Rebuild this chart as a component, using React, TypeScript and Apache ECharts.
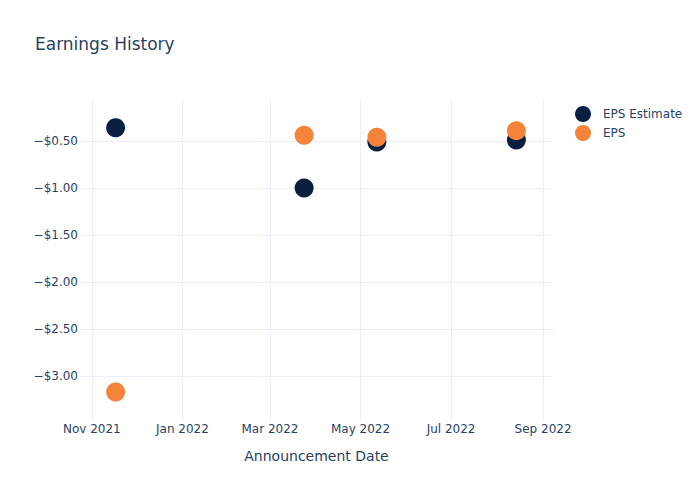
import React, { useEffect, useRef } from "react";
import * as echarts from "echarts";

const dates = ["2021-11-17", "2022-03-24", "2022-05-12", "2022-08-14"];
const epsEstimate = [-0.36, -1.0, -0.51, -0.49];
const eps = [-3.17, -0.44, -0.46, -0.39];
const xTicks = ["2021-11-01", "2022-01-01", "2022-03-01", "2022-05-01", "2022-07-01", "2022-09-01"];
const yTicks = [-3.0, -2.5, -2.0, -1.5, -1.0, -0.5];
const monthNames = ["Jan", "Feb", "Mar", "Apr", "May", "Jun", "Jul", "Aug", "Sep", "Oct", "Nov", "Dec"];

const ts = (d: string) => Date.parse(d + "T00:00:00Z");
const FONT = "DejaVu Sans";
const TXT = "#2a3f5f";

export default function App() {
  const ref = useRef<HTMLDivElement>(null);
  useEffect(() => {
    const chart = echarts.init(ref.current!, null, { renderer: "svg" });
    chart.setOption({
      animation: false,
      textStyle: { fontFamily: FONT },
      title: {
        text: "Earnings History",
        left: 35,
        top: 35,
        padding: 0,
        textStyle: { fontFamily: FONT, fontSize: 17, fontWeight: "normal", color: TXT },
      },
      legend: {
        orient: "vertical",
        left: 575,
        top: 106,
        padding: 0,
        itemWidth: 30,
        itemHeight: 16,
        itemGap: 3,
        icon: "circle",
        textStyle: { fontFamily: FONT, fontSize: 12, color: TXT },
        data: ["EPS Estimate", "EPS"],
      },
      grid: { left: 80, right: 147, top: 100, bottom: 80, containLabel: false },
      xAxis: {
        type: "value",
        min: ts("2021-10-24"),
        max: ts("2022-09-07") + 16 * 3600 * 1000,
        name: "Announcement Date",
        nameLocation: "middle",
        nameGap: 29,
        nameTextStyle: { fontFamily: FONT, fontSize: 14, color: TXT },
        axisLine: { show: false },
        axisTick: { show: false, customValues: xTicks.map(ts) },
        splitLine: { show: true, lineStyle: { color: "#ebf0f8", width: 1 } },
        axisLabel: {
          customValues: xTicks.map(ts),
          margin: 3,
          fontFamily: FONT,
          fontSize: 12,
          color: TXT,
          formatter: (v: number) => {
            const d = new Date(v);
            return monthNames[d.getUTCMonth()] + " " + d.getUTCFullYear();
          },
        },
      },
      yAxis: {
        type: "value",
        min: -3.468,
        max: -0.064,
        axisLine: { show: false },
        axisTick: { show: false, customValues: yTicks },
        splitLine: { show: true, lineStyle: { color: "#ebf0f8", width: 1 } },
        axisLabel: {
          customValues: yTicks,
          margin: 2,
          fontFamily: FONT,
          fontSize: 12,
          color: TXT,
          formatter: (v: number) => (v < 0 ? "\u2212" : "") + "$" + Math.abs(v).toFixed(2),
        },
      },
      series: [
        {
          name: "EPS Estimate",
          type: "scatter",
          symbolSize: 19,
          itemStyle: { color: "#0b1f41", opacity: 1 },
          data: dates.map((d, i) => [ts(d), epsEstimate[i]]),
        },
        {
          name: "EPS",
          type: "scatter",
          symbolSize: 19,
          itemStyle: { color: "#f5843a", opacity: 1 },
          data: dates.map((d, i) => [ts(d), eps[i]]),
        },
      ],
    });
    return () => chart.dispose();
  }, []);
  return <div ref={ref} style={{ width: 700, height: 500, margin: -8 }} />;
}
